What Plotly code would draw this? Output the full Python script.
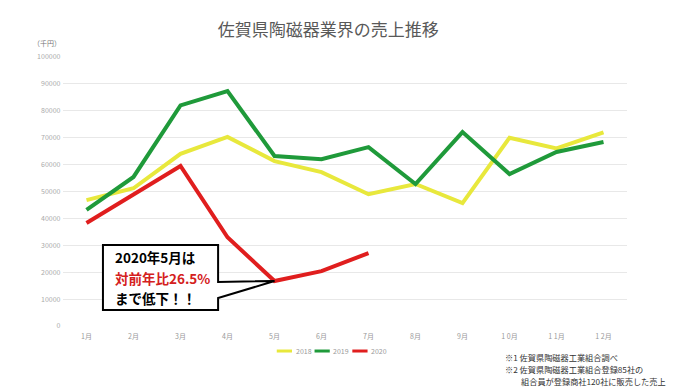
import plotly.graph_objects as go

months = ["1月", "2月", "3月", "4月", "5月", "6月", "7月", "8月", "9月", "10月", "11月", "12月"]
tick_text = ["1月", "2月", "3月", "4月", "5月", "6月", "7月", "8月", "9月", "1 0月", "1 1月", "1 2月"]
sales_2018 = [46800, 51200, 64000, 70300, 61300, 57200, 49000, 52800, 45700, 70000, 66000, 72000]
sales_2019 = [43200, 55400, 82000, 87300, 63200, 62000, 66500, 52800, 72100, 56500, 64700, 68400]
sales_2020 = [38300, 48700, 59500, 33000, 16700, 20400, 27100]
series = [("2018", sales_2018, "#e8e83c"), ("2019", sales_2019, "#1f9a3a"), ("2020", sales_2020, "#e01e1e")]

FONT = "Noto Sans CJK JP"
fig = go.Figure()
for name, vals, col in series:
    fig.add_trace(go.Scatter(x=months[:len(vals)], y=vals, name=name, mode="lines",
                             line=dict(color=col, width=4), showlegend=False))

# custom compact legend below the axis
for i, (name, vals, col) in enumerate(series):
    x0 = 0.379 + i * 0.067
    fig.add_shape(type="line", xref="paper", yref="paper", x0=x0, x1=x0 + 0.027,
                  y0=-0.093, y1=-0.093, line=dict(color=col, width=3))
    fig.add_annotation(x=x0 + 0.030, y=-0.093, xref="paper", yref="paper", xanchor="left",
                       yanchor="middle", showarrow=False, text=name,
                       font=dict(family=FONT, size=7, color="#999999"))

# callout box with pointer to May 2020
tip_x, tip_y = 4, sales_2020[4]
fig.add_shape(type="path", xref="x", yref="y",
              path=f"M 0.35 5950 L 2.80 5950 L 2.80 10400 L {tip_x} {tip_y} L 2.80 16400 L 2.80 30100 L 0.35 30100 Z",
              line=dict(color="black", width=2), fillcolor="white", layer="above")
box_lines = [("2020年5月は", "black", 25650), ("対前年比26.5%", "#d42020", 17900), ("まで低下！！", "black", 10300)]
for t, c, yv in box_lines:
    fig.add_annotation(x=0.56, y=yv, xref="x", yref="y", xanchor="left", yanchor="middle",
                       showarrow=False, text=f"<b>{t}</b>",
                       font=dict(family=FONT, size=13.5, color=c))

fig.add_annotation(x=-0.028, y=1.052, xref="paper", yref="paper", xanchor="center", yanchor="middle",
                   showarrow=False, text="（千円）", font=dict(family=FONT, size=7, color="#777777"))

notes = [("※1 佐賀県陶磁器工業組合調べ", 0.780, -0.115),
         ("※2 佐賀県陶磁器工業組合登録85社の", 0.780, -0.160),
         ("組合員が登録商社120社に販売した売上", 0.808, -0.204)]
for t, xp, yp in notes:
    fig.add_annotation(x=xp, y=yp, xref="paper", yref="paper", xanchor="left",
                       yanchor="middle", showarrow=False, text=t,
                       font=dict(family=FONT, size=8.2, color="#333333"))

fig.update_layout(
    width=680, height=391,
    margin=dict(l=55, r=61, t=49, b=73),
    paper_bgcolor="white", plot_bgcolor="white",
    title=dict(text="佐賀県陶磁器業界の売上推移", x=0.471, xanchor="center", y=0.944, yanchor="middle",
               font=dict(family=FONT, size=17, color="#595959")),
    font=dict(family=FONT, color="#999999", size=7),
    showlegend=False,
    xaxis=dict(type="category", categoryorder="array", categoryarray=months,
               tickmode="array", tickvals=months, ticktext=tick_text,
               range=[-0.5, 11.5], showgrid=False, showline=False, zeroline=False,
               ticklabelstandoff=5, automargin=False,
               tickfont=dict(size=7, color="#999999")),
    yaxis=dict(range=[0, 100000], dtick=10000, showgrid=True, gridcolor="#e8e8e8", gridwidth=1,
               zeroline=False, showline=False, tickformat="d", ticksuffix=" ", automargin=False,
               tickfont=dict(size=7, color="#aaaaaa")),
)
fig.write_html("out.html")
